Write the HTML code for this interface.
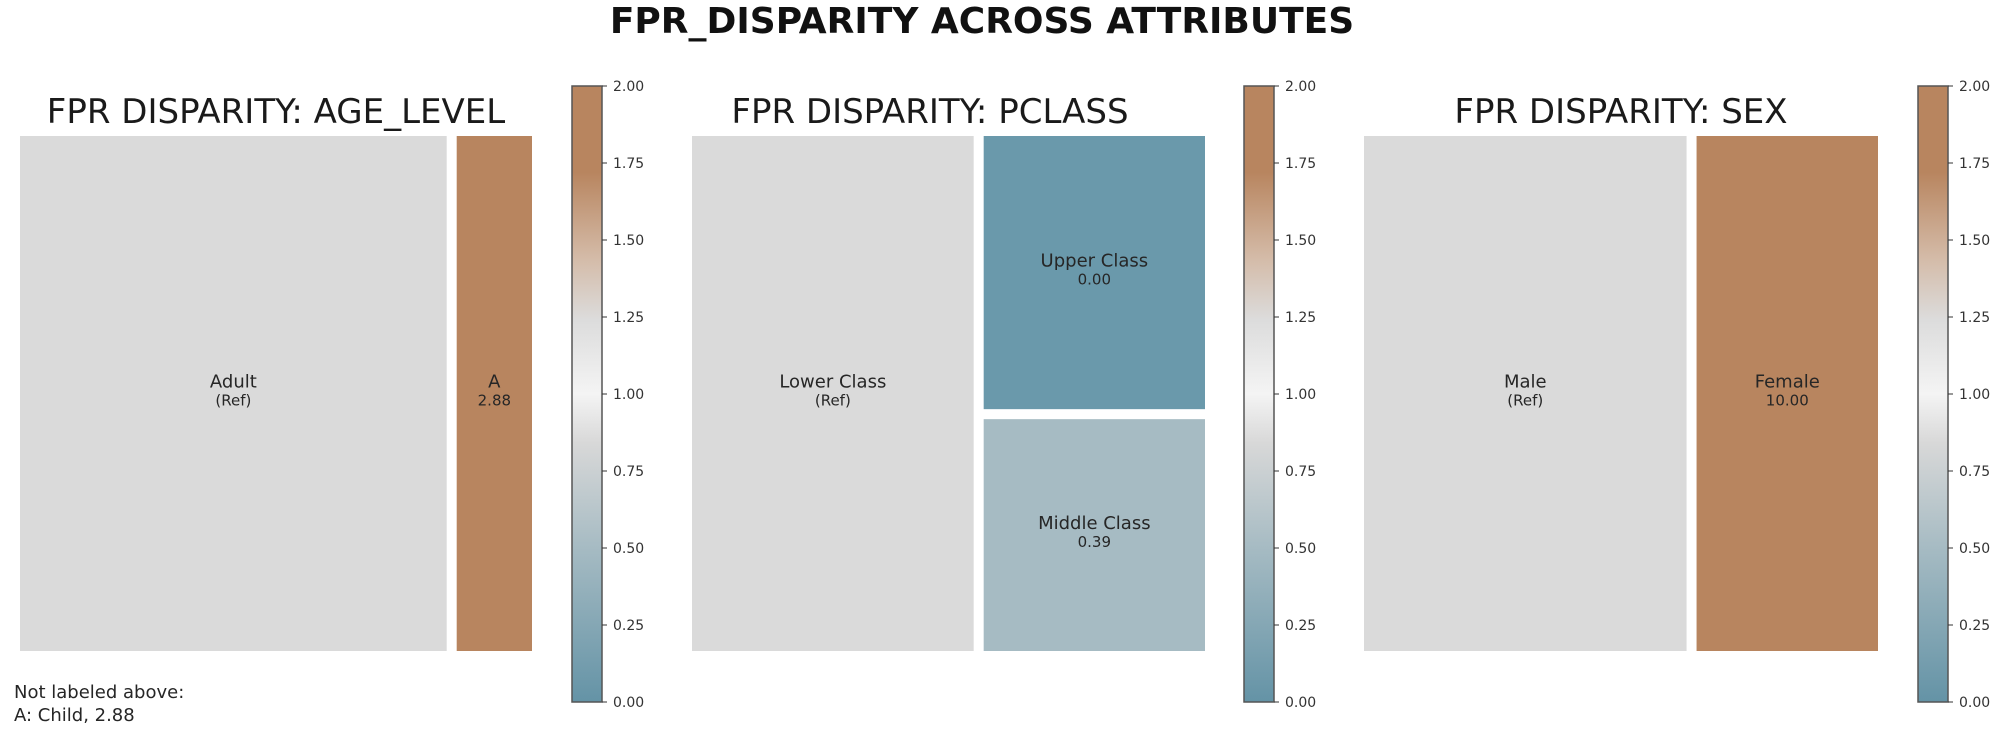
<!DOCTYPE html>
<html><head><meta charset="utf-8">
<style>
body{margin:0;background:#fff;}
svg{display:block;font-family:"DejaVu Sans","Liberation Sans",sans-serif;}
</style></head>
<body>
<svg id="chart" width="1999" height="735" viewBox="0 0 1999 735">
<defs>
<linearGradient id="cmap" x1="0" y1="1" x2="0" y2="0">
<stop offset="0" stop-color="#6493a6"/>
<stop offset="0.25" stop-color="#a6bbc3"/>
<stop offset="0.42" stop-color="#d8d8d8"/>
<stop offset="0.5" stop-color="#f4f4f4"/>
<stop offset="0.62" stop-color="#dcdcdc"/>
<stop offset="0.72" stop-color="#d4bba8"/>
<stop offset="0.86" stop-color="#b8855f"/>
<stop offset="1" stop-color="#b8855f"/>
</linearGradient>
</defs>
<text x="982" y="33" text-anchor="middle" font-weight="bold" font-size="36" fill="#111">FPR_DISPARITY ACROSS ATTRIBUTES</text>
<g id="panels"></g>
<text x="14" y="698" font-size="18" fill="#262626">Not labeled above:</text>
<text x="14" y="721" font-size="18" fill="#262626">A: Child, 2.88</text>
</svg>
<script>
const panelTitles = ["FPR DISPARITY: AGE_LEVEL","FPR DISPARITY: PCLASS","FPR DISPARITY: SEX"];
const ageLabels = ["Adult","A"];
const ageSizes = [0.85,0.15];
const ageValues = ["(Ref)","2.88"];
const ageColors = ["#dadada","#b8855f"];
const pclassLabels = ["Lower Class","Upper Class","Middle Class"];
const pclassSizes = [0.56,0.238,0.202];
const pclassValues = ["(Ref)","0.00","0.39"];
const pclassColors = ["#dadada","#6a99ab","#a6bbc3"];
const sexLabels = ["Male","Female"];
const sexSizes = [0.64,0.36];
const sexValues = ["(Ref)","10.00"];
const sexColors = ["#dadada","#b8855f"];
const cbTicks = [0,0.25,0.5,0.75,1,1.25,1.5,1.75,2];
const cbTickLabels = ["0.00","0.25","0.50","0.75","1.00","1.25","1.50","1.75","2.00"];

const NS="http://www.w3.org/2000/svg";
const root=document.getElementById('panels');
function mk(tag,attrs,parent){const e=document.createElementNS(NS,tag);for(const k in attrs)e.setAttribute(k,attrs[k]);parent.appendChild(e);return e;}
const panels=[
 {x0:20,x1:532,titleX:276,labels:ageLabels,sizes:ageSizes,values:ageValues,colors:ageColors,cb:572},
 {x0:692,x1:1205,titleX:930,labels:pclassLabels,sizes:pclassSizes,values:pclassValues,colors:pclassColors,cb:1244},
 {x0:1364,x1:1878,titleX:1621,labels:sexLabels,sizes:sexSizes,values:sexValues,colors:sexColors,cb:1918}
];
const Y0=136,Y1=651,GAP=10,CB_TOP=86,CB_BOT=702;
function cbY(v){return CB_BOT-(v/2)*(CB_BOT-CB_TOP);}
panels.forEach((p,pi)=>{
 const g=mk('g',{},root);
 
 
 const t=mk('text',{x:p.titleX,y:123,'text-anchor':'middle','font-size':34,fill:'#1a1a1a'},g);
 t.textContent=panelTitles[pi];
 
 
 const W=p.x1-p.x0-GAP, H=Y1-Y0;
 const w0=W*p.sizes[0];
 const rest=p.sizes.slice(1).reduce((a,b)=>a+b,0);
 const rects=[{x:p.x0,y:Y0,w:w0,h:H}];
 let yy=Y0; const n=p.sizes.length-1; const Hav=H-GAP*(n-1);
 for(let i=1;i<p.sizes.length;i++){const h=Hav*p.sizes[i]/rest;rects.push({x:p.x0+w0+GAP,y:yy,w:W-w0,h:h});yy+=h+GAP;}
 rects.forEach((r,i)=>{
  const rc=mk('rect',{x:r.x,y:r.y,width:r.w,height:r.h,fill:p.colors[i]},g);
  
  
  const cx=r.x+r.w/2, cy=r.y+r.h/2;
  const l=mk('text',{x:cx,y:cy-6,'text-anchor':'middle','font-size':18,fill:'#262626'},g);
  l.textContent=p.labels[i];
  
  
  const v=mk('text',{x:cx,y:cy+12,'text-anchor':'middle','font-size':15,fill:'#262626'},g);
  v.textContent=p.values[i];
  
  
 });
 const cb=mk('rect',{x:p.cb,y:CB_TOP,width:30,height:CB_BOT-CB_TOP,fill:'url(#cmap)',stroke:'#555','stroke-width':1.5},g);
 
 
 cbTicks.forEach((tv,i)=>{
  const y=cbY(tv);
  const tk=mk('line',{x1:p.cb+30,x2:p.cb+35,y1:y,y2:y,stroke:'#333','stroke-width':1},g);
  
  
  const tl=mk('text',{x:p.cb+41,y:y+5,'font-size':14,fill:'#333'},g);
  tl.textContent=cbTickLabels[i];
  
  
 });
});
</script>
</body></html>
